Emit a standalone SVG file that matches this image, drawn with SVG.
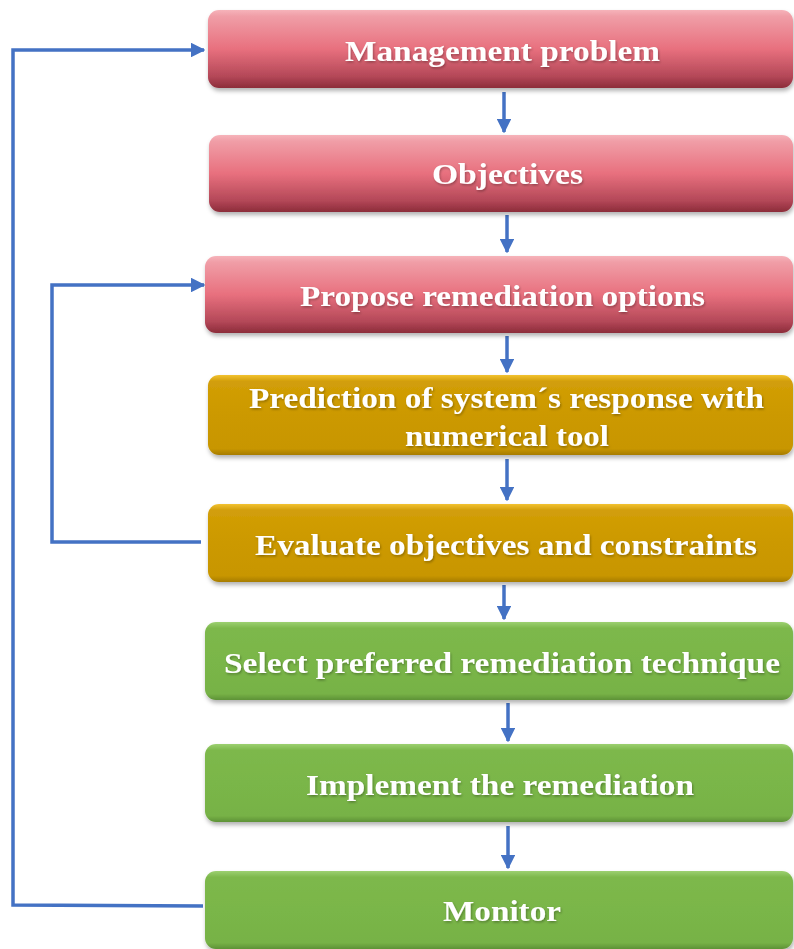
<svg xmlns="http://www.w3.org/2000/svg" width="794" height="949" viewBox="0 0 794 949">
<defs>
<linearGradient id="gPink" x1="0" y1="0" x2="0" y2="1">
<stop offset="0" stop-color="#F6B3BA"/>
<stop offset="0.08" stop-color="#F09EA7"/>
<stop offset="0.5" stop-color="#E8707E"/>
<stop offset="0.85" stop-color="#B44858"/>
<stop offset="1" stop-color="#8C2C3A"/>
</linearGradient>
<linearGradient id="gYellow" x1="0" y1="0" x2="0" y2="1">
<stop offset="0" stop-color="#F2C232"/>
<stop offset="0.08" stop-color="#D29E08"/>
<stop offset="0.5" stop-color="#CC9900"/>
<stop offset="0.92" stop-color="#C89600"/>
<stop offset="1" stop-color="#A67C00"/>
</linearGradient>
<linearGradient id="gGreen" x1="0" y1="0" x2="0" y2="1">
<stop offset="0" stop-color="#9CD070"/>
<stop offset="0.08" stop-color="#7DB84C"/>
<stop offset="0.5" stop-color="#7AB648"/>
<stop offset="0.92" stop-color="#77B246"/>
<stop offset="1" stop-color="#5E9236"/>
</linearGradient>
<filter id="sh" x="-5%" y="-20%" width="110%" height="150%">
<feDropShadow dx="1" dy="3" stdDeviation="2" flood-color="#000" flood-opacity="0.3"/>
</filter>
<filter id="tsh" x="-5%" y="-20%" width="110%" height="150%">
<feDropShadow dx="1" dy="1.5" stdDeviation="1" flood-color="#000" flood-opacity="0.3"/>
</filter>
<marker id="arr" viewBox="0 0 10 10" refX="9" refY="5" markerWidth="4.2" markerHeight="4.2" orient="auto" markerUnits="strokeWidth">
<path d="M0,0 L10,5 L0,10 z" fill="#4472C4"/>
</marker>
</defs>
<style>
.box{filter:url(#sh);}
.pink{fill:url(#gPink);}
.yel{fill:url(#gYellow);}
.grn{fill:url(#gGreen);}
.lbl{font-family:"Liberation Serif","Times New Roman",serif;font-weight:bold;font-size:30px;fill:#fff;text-anchor:middle;filter:url(#tsh);}
.con{fill:none;stroke:#4472C4;stroke-width:3.5;}
</style>
<rect width="794" height="949" fill="#fff"/>
<g id="connectors">
<line class="con" x1="504" y1="92" x2="504" y2="132" marker-end="url(#arr)"/>
<line class="con" x1="507" y1="215" x2="507" y2="252" marker-end="url(#arr)"/>
<line class="con" x1="507" y1="336" x2="507" y2="372" marker-end="url(#arr)"/>
<line class="con" x1="507" y1="459" x2="507" y2="500" marker-end="url(#arr)"/>
<line class="con" x1="504" y1="585" x2="504" y2="619" marker-end="url(#arr)"/>
<line class="con" x1="508" y1="703" x2="508" y2="741" marker-end="url(#arr)"/>
<line class="con" x1="508" y1="826" x2="508" y2="868" marker-end="url(#arr)"/>
<polyline class="con" points="203,906 13,905 13,50 204,50" marker-end="url(#arr)"/>
<polyline class="con" points="201,542 52,542 52,285 204,285" marker-end="url(#arr)"/>
</g>
<g id="n1"><rect class="box pink" x="208" y="10" width="585" height="78" rx="11"/><text class="lbl" x="502.5" y="61" textLength="315" lengthAdjust="spacingAndGlyphs">Management problem</text></g>
<g id="n2"><rect class="box pink" x="209" y="135" width="584" height="77" rx="11"/><text class="lbl" x="507.5" y="184" textLength="151" lengthAdjust="spacingAndGlyphs">Objectives</text></g>
<g id="n3"><rect class="box pink" x="205" y="256" width="588" height="77" rx="11"/><text class="lbl" x="502.5" y="306" textLength="405" lengthAdjust="spacingAndGlyphs">Propose remediation options</text></g>
<g id="n4"><rect class="box yel" x="208" y="375" width="585" height="80" rx="11"/><text class="lbl" x="506.5" y="408" textLength="515" lengthAdjust="spacingAndGlyphs">Prediction of system´s response with</text><text class="lbl" x="507" y="446" textLength="204" lengthAdjust="spacingAndGlyphs">numerical tool</text></g>
<g id="n5"><rect class="box yel" x="208" y="504" width="585" height="78" rx="11"/><text class="lbl" x="506" y="555" textLength="502" lengthAdjust="spacingAndGlyphs">Evaluate objectives and constraints</text></g>
<g id="n6"><rect class="box grn" x="205" y="622" width="588" height="78" rx="11"/><text class="lbl" x="502" y="673" textLength="556" lengthAdjust="spacingAndGlyphs">Select preferred remediation technique</text></g>
<g id="n7"><rect class="box grn" x="205" y="744" width="588" height="78" rx="11"/><text class="lbl" x="500" y="795" textLength="388" lengthAdjust="spacingAndGlyphs">Implement the remediation</text></g>
<g id="n8"><rect class="box grn" x="205" y="871" width="588" height="78" rx="11"/><text class="lbl" x="502" y="921" textLength="118" lengthAdjust="spacingAndGlyphs">Monitor</text></g>
</svg>
